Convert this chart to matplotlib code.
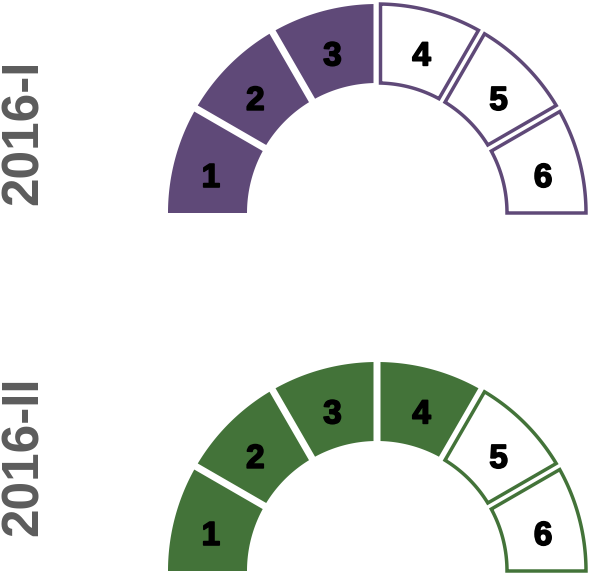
import matplotlib.pyplot as plt
import matplotlib.patheffects as pe
from matplotlib.patches import Polygon
import numpy as np

# gauge data
periods = ['2016-I', '2016-II']
filled = [3, 4]
n_segments = 6
seg_labels = ['1', '2', '3', '4', '5', '6']
colors = ['#5f4978', '#437339']

W, H = 594, 573
centers = [(377, 213), (377, 571)]
r_in, r_out = 130, 209
half_gap = 3.5

fig = plt.figure(figsize=(W / 100, H / 100), dpi=100)
ax = fig.add_axes([0, 0, 1, 1])
ax.set_xlim(0, W)
ax.set_ylim(H, 0)
ax.set_aspect('equal')
ax.axis('off')


def segment(cx, cy, i):
    step = 180.0 / n_segments
    ta = np.radians(180 - step * i)
    tb = np.radians(180 - step * (i + 1))
    pts = []
    for r, rev in ((r_out, False), (r_in, True)):
        a = ta - (np.arcsin(half_gap / r) if i > 0 else 0)
        b = tb + (np.arcsin(half_gap / r) if i < n_segments - 1 else 0)
        t = np.linspace(a, b, 60)
        if rev:
            t = t[::-1]
        pts += list(zip(cx + r * np.cos(t), cy - r * np.sin(t)))
    return np.array(pts)


for k in range(len(periods)):
    cx, cy = centers[k]
    for i in range(n_segments):
        pts = segment(cx, cy, i)
        if i < filled[k]:
            p = Polygon(pts, closed=True, facecolor=colors[k], edgecolor='none')
        else:
            p = Polygon(pts, closed=True, facecolor='white', edgecolor=colors[k],
                        linewidth=2.5, joinstyle='miter')
        ax.add_patch(p)
        mid = np.radians(180 - 30 * (i + 0.5))
        rl = 172
        ax.text(cx + rl * np.cos(mid), cy + 10 - rl * np.sin(mid), seg_labels[i],
                ha='center', va='center', fontsize=24, fontweight='bold',
                family='Liberation Sans', color='black',
                path_effects=[pe.withStroke(linewidth=1.2, foreground='black')])

label_pos = [(24, 132), (24, 456)]
for k in range(len(periods)):
    ax.text(label_pos[k][0], label_pos[k][1], periods[k], rotation=90,
            ha='center', va='center', fontsize=37, fontweight='bold',
            family='Liberation Sans', color='#5c5c5c')

fig.savefig('out.png', dpi=100)
